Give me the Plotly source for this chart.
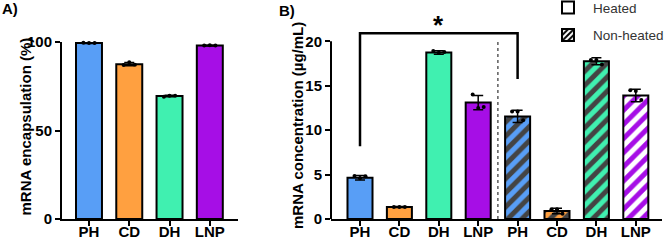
import plotly.graph_objects as go

# ---------------- data ----------------
cats_a = ["PH", "CD", "DH", "LNP"]
enc_mean = [99.5, 87.5, 69.5, 98.0]
enc_sd = [0.3, 0.9, 0.4, 0.2]
enc_pts = [[99.6, 99.5, 99.4], [87.0, 88.6, 87.1], [69.0, 69.6, 69.7], [98.0, 98.1, 98.0]]

cats_b = ["PH", "CD", "DH", "LNP"]
heat_mean = [4.65, 1.35, 18.75, 13.1]
heat_sd = [0.25, 0.05, 0.2, 0.8]
heat_pts = [[4.85, 4.6, 4.8], [1.35, 1.35, 1.35], [18.9, 18.7, 18.8], [14.0, 12.5, 12.6]]
nonheat_mean = [11.55, 0.9, 17.75, 13.9]
nonheat_sd = [0.7, 0.3, 0.4, 0.7]
nonheat_pts = [[12.1, 12.1, 11.1], [1.1, 1.1, 0.6], [17.9, 17.9, 17.4], [14.5, 14.4, 13.4]]

colors = ["#589ef6", "#ffa040", "#40f0b0", "#a60ee6"]
jitter = [-0.14, 0.0, 0.14]

sig_from = 8.2      # bracket start height over heated PH
sig_top = 20.9      # bracket top height
sig_to = 15.75      # bracket end height over non-heated PH

FONT = "Liberation Sans, Arial, sans-serif"
H = 245
W = 666

fig = go.Figure()

# ---------------- panel A ----------------
xa = list(range(len(cats_a)))
fig.add_trace(go.Bar(
    x=xa, y=enc_mean, width=0.645,
    marker=dict(color=colors, line=dict(color="black", width=2)),
    error_y=dict(type="data", array=enc_sd, color="black", thickness=1.5, width=5),
    xaxis="x", yaxis="y", showlegend=False))
px_, py_ = [], []
for i, pts in enumerate(enc_pts):
    for j, v in enumerate(pts):
        px_.append(xa[i] + jitter[j]); py_.append(v)
fig.add_trace(go.Scatter(x=px_, y=py_, mode="markers", cliponaxis=False,
                         marker=dict(color="black", size=4),
                         xaxis="x", yaxis="y", showlegend=False))

# ---------------- panel B ----------------
xb_heat = list(range(len(cats_b)))
xb_non = [len(cats_b) + i for i in range(len(cats_b))]
fig.add_trace(go.Bar(
    x=xb_heat, y=heat_mean, width=0.635,
    marker=dict(color=colors, line=dict(color="black", width=2)),
    error_y=dict(type="data", array=heat_sd, color="black", thickness=1.5, width=5),
    xaxis="x2", yaxis="y2", showlegend=False))
fig.add_trace(go.Bar(
    x=xb_non, y=nonheat_mean, width=0.635,
    marker=dict(color=colors, line=dict(color="black", width=2),
                pattern=dict(shape="/", fgcolor="black", size=10,
                             solidity=0.5, fgopacity=1, fillmode="overlay")),
    error_y=dict(type="data", array=nonheat_sd, color="black", thickness=1.5, width=5),
    xaxis="x2", yaxis="y2", showlegend=False))
px_, py_ = [], []
for xs, allpts in ((xb_heat, heat_pts), (xb_non, nonheat_pts)):
    for i, pts in enumerate(allpts):
        for j, v in enumerate(pts):
            px_.append(xs[i] + jitter[j]); py_.append(v)
fig.add_trace(go.Scatter(x=px_, y=py_, mode="markers", cliponaxis=False,
                         marker=dict(color="black", size=4),
                         xaxis="x2", yaxis="y2", showlegend=False))

# significance bracket
fig.add_trace(go.Scatter(
    x=[xb_heat[0], xb_heat[0], xb_non[0], xb_non[0]],
    y=[sig_from, sig_top, sig_top, sig_to],
    mode="lines", line=dict(color="black", width=2.5),
    xaxis="x2", yaxis="y2", showlegend=False, hoverinfo="skip"))

# legend entries
fig.add_trace(go.Bar(x=[None], y=[None], name="Heated",
                     marker=dict(color="white", line=dict(color="black", width=2)),
                     xaxis="x2", yaxis="y2", legendgroup="a"))
fig.add_trace(go.Bar(x=[None], y=[None], name="Non-heated",
                     marker=dict(color="white", line=dict(color="black", width=2),
                                 pattern=dict(shape="/", fgcolor="black", size=5,
                                              solidity=0.5, fgopacity=1, fillmode="overlay")),
                     xaxis="x2", yaxis="y2", legendgroup="b"))

# ---------------- layout ----------------
ybot = (H - 219) / H
axis_common = dict(showgrid=False, zeroline=False, ticks="outside", ticklen=5,
                   tickwidth=2, tickcolor="black", linecolor="black", linewidth=2,
                   automargin=False,
                   tickfont=dict(family=FONT, size=15, color="black", weight="bold"))

fig.update_layout(
    width=W, height=H, margin=dict(l=0, r=0, t=0, b=0, autoexpand=False),
    paper_bgcolor="white", plot_bgcolor="white",
    barmode="overlay",
    font=dict(family=FONT, color="black"),
    xaxis=dict(domain=[62 / W, 238 / W], range=[-0.67, 3.70], tickvals=xa, ticktext=cats_a,
               showline=True, anchor="y", ticklabelstandoff=-7, **axis_common),
    yaxis=dict(domain=[ybot, (H - 42) / H], range=[0, 100], tickvals=[0, 50, 100],
               showline=True, anchor="x", **axis_common),
    xaxis2=dict(domain=[331 / W, 662 / W], range=[-0.736, 7.665],
                tickvals=xb_heat + xb_non, ticktext=cats_b + cats_b,
                showline=True, anchor="y2", ticklabelstandoff=-7, **axis_common),
    yaxis2=dict(domain=[ybot, (H - 219 + 21.5 * 8.885) / H], range=[0, 21.5],
                tickvals=[0, 5, 10, 15, 20], showline=False, anchor="x2",
                **axis_common),
    legend=dict(x=543 / W, xanchor="left", y=1.032, yanchor="top",
                font=dict(family=FONT, size=13.5, color="#333333"),
                itemwidth=40,
                tracegroupgap=7, bgcolor="rgba(0,0,0,0)"),
    showlegend=True,
)

# y-axis line for panel B (stops at 20)
fig.add_shape(type="line", xref="x2 domain", yref="y2", x0=0, x1=0, y0=0, y1=20,
              line=dict(color="black", width=2))
# dotted separator
fig.add_shape(type="line", xref="x2", yref="y2", x0=3.5, x1=3.5, y0=0, y1=20,
              line=dict(color="#333333", width=1.2, dash="dot"))

# axis titles
fig.add_annotation(x=14 / W, y=(H - 127) / H, xref="paper", yref="paper",
                   text="<b>mRNA encapsulation (%)</b>", textangle=-90, showarrow=False,
                   font=dict(family=FONT, size=15, color="black"))
fig.add_annotation(x=298 / W, y=(H - 126) / H, xref="paper", yref="paper",
                   text="<b>mRNA concentration (µg/mL)</b>", textangle=-90, showarrow=False,
                   font=dict(family=FONT, size=15, color="black"))

# star
fig.add_annotation(x=(xb_heat[0] + xb_non[0]) / 2, y=sig_top, xref="x2", yref="y2",
                   text="<b>*</b>", showarrow=False, yanchor="bottom", yshift=-9,
                   font=dict(family=FONT, size=26, color="black"))
# panel labels
fig.add_annotation(x=0, y=1, xref="paper", yref="paper", xanchor="left", yanchor="top",
                   text="<b>A)</b>", showarrow=False, yshift=2,
                   font=dict(family=FONT, size=15, color="black"))
fig.add_annotation(x=277 / W, y=1, xref="paper", yref="paper", xanchor="left", yanchor="top",
                   text="<b>B)</b>", showarrow=False, yshift=0,
                   font=dict(family=FONT, size=15, color="black"))

fig.write_html("out.html")
